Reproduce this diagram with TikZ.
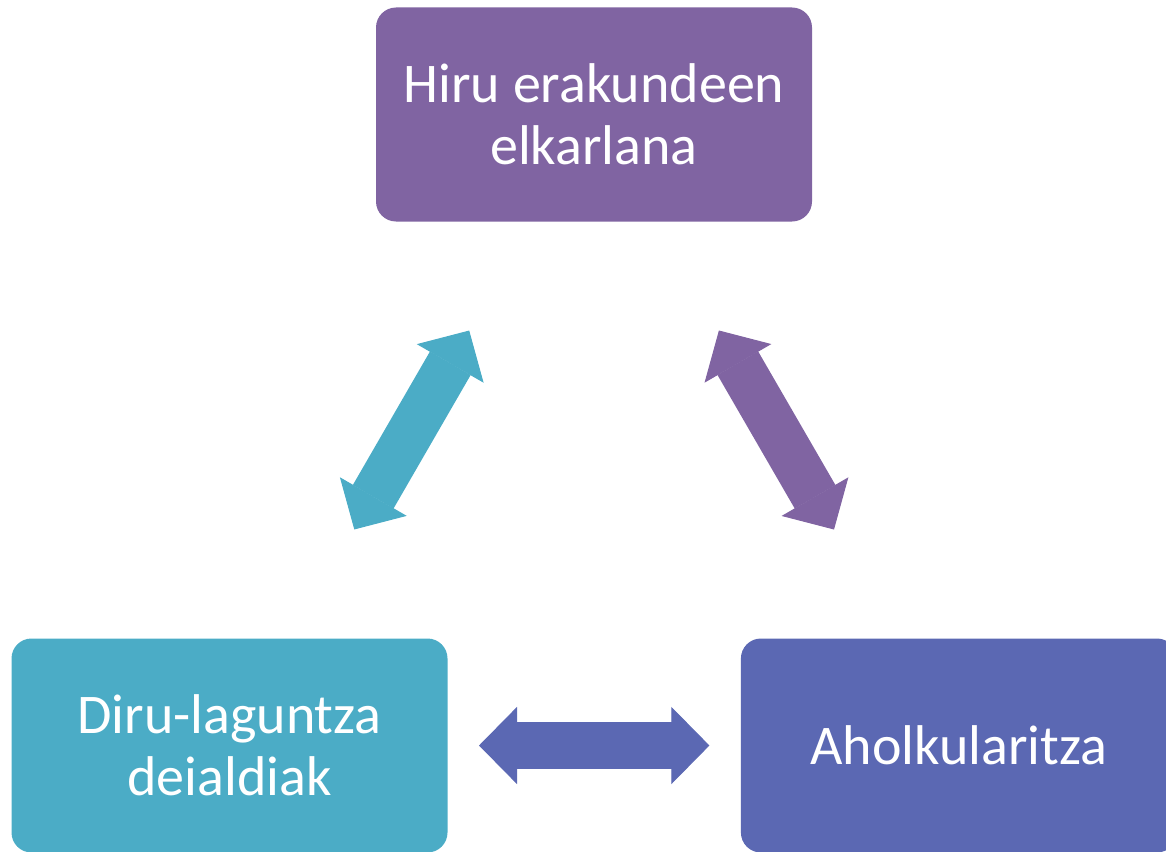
\documentclass[tikz,border=0pt]{standalone}
\usepackage{fontspec}
\setsansfont{Carlito}
\usetikzlibrary{
  arrows.meta,
  positioning,  % Function "of" (e.g. [right=of x])
}
\definecolor{mypurple}{RGB}{128,100,162}
\definecolor{myteal}{RGB}{75,172,198}
\definecolor{myblue}{RGB}{91,104,179}
\def\myboxw{436pt}
\def\myboxh{214pt}
\def\myshort{249.5pt}
\tikzset{
  font=\sffamily,
  my box/.style={
    rectangle,
    rounded corners=20pt,
    minimum width=\myboxw,
    minimum height=\myboxh,
    inner sep=0mm,
    align=center,
    text=white,
    font=\sffamily\fontsize{56}{62}\selectfont
  },
  % Thick double arrow between box centres
  big arrow/.style={
    line width=47pt,
    >={Triangle[length=38pt,width=77pt,line width=1pt]},
    <->,
    shorten <=\myshort,
    shorten >=\myshort
  }
}
\begin{document}
\begin{tikzpicture}
\useasboundingbox (0,0) rectangle (1166pt,-851pt);
\clip (0,0) rectangle (1166pt,-851pt);
\node[my box,fill=mypurple] (hiru) at (594pt,-114.5pt) {Hiru erakundeen\\elkarlana};
\node[my box,fill=myteal]   (diru) at (229.5pt,-745.5pt) {Diru-laguntza\\deialdiak};
\node[my box,fill=myblue]   (ahol) [right=293pt of diru] {Aholkularitza};
\draw[big arrow,myteal]   (diru.center) -- (hiru.center);
\draw[big arrow,mypurple] (hiru.center) -- (ahol.center);
\draw[big arrow,myblue]   (diru.center) -- (ahol.center);
\end{tikzpicture}
\end{document}
